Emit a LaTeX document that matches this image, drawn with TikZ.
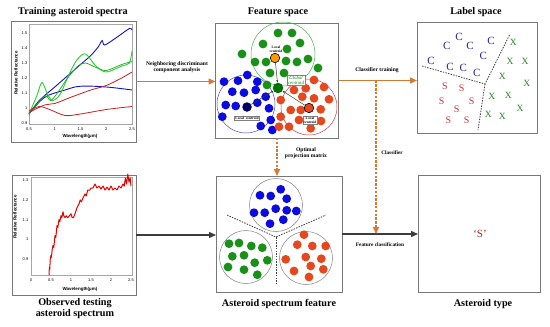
\documentclass[tikz,border=0pt]{standalone}
\usepackage{fontspec}
\setmainfont{Liberation Serif}
\newfontfamily\axfont{Liberation Sans}
\usetikzlibrary{arrows.meta,decorations.pathmorphing,calc}
\definecolor{orng}{RGB}{212,122,50}
\definecolor{darr}{RGB}{60,60,60}
\definecolor{dblue}{RGB}{10,10,225}
\definecolor{dgreen}{RGB}{25,145,25}
\definecolor{dred}{RGB}{228,72,30}
\definecolor{cnavy}{RGB}{35,35,140}
\definecolor{sred}{RGB}{200,50,60}
\definecolor{xgreen}{RGB}{40,130,40}
\definecolor{boxgray}{RGB}{120,120,120}
\definecolor{lgreen}{RGB}{40,210,40}
\definecolor{pblue}{RGB}{20,20,190}
\definecolor{pred}{RGB}{200,30,30}
\begin{document}
\begin{tikzpicture}[x=1pt,y=-1pt,
  panel/.style={draw=boxgray,line width=0.9pt,inner sep=0pt,outer sep=0pt},
  title/.style={font=\bfseries\fontsize{10.2}{11}\selectfont,align=center},
  lbl/.style={font=\bfseries\fontsize{5.6}{6.6}\selectfont,align=center,inner sep=0pt},
  oarrow/.style={draw=orng,line width=1.4pt,-{Triangle[length=7pt,width=6pt]}},
  odash/.style={draw=orng,line width=1.6pt,dash pattern=on 2.4pt off 1.4pt,-{Triangle[length=7pt,width=6pt]}},
  karrow/.style={draw=darr,line width=1.4pt,-{Triangle[length=7pt,width=6pt]}},
  tickl/.style={font=\axfont\fontsize{4}{4}\selectfont,inner sep=0.5pt},
  axl/.style={font=\axfont\bfseries\fontsize{4.5}{5}\selectfont,inner sep=0pt},
  frame/.style={draw=gray!70,line width=0.4pt},
  cent/.style={font=\bfseries\fontsize{3.6}{4}\selectfont,align=center,draw=gray,fill=white,inner sep=0.8pt,line width=0.3pt},
  carrow/.style={draw=darr,line width=0.5pt,-{Stealth[length=2.5pt,width=2pt]}},
  sepl/.style={draw=black!75,line width=0.8pt,dash pattern=on 1.5pt off 1.2pt},
  letter/.style={font=\fontsize{11}{12}\selectfont,inner sep=0pt}
]
\useasboundingbox (0,0) rectangle (550,327);
\fill[white] (0,0) rectangle (550,327);

% ---------- panels ----------
\node[panel,minimum width=125pt,minimum height=121pt] (tp) at (73.5,81.5) {};
\node[panel,minimum width=123pt,minimum height=115pt] (fs) at (277,80.5) {};
\node[panel,minimum width=120pt,minimum height=111pt] (ls) at (477,77.5) {};
\node[panel,minimum width=124pt,minimum height=120pt] (bp) at (74,235) {};
\node[panel,minimum width=126pt,minimum height=116pt] (af) at (279,234) {};
\node[panel,minimum width=122pt,minimum height=117pt] (at) at (479,233.5) {};

% ---------- titles ----------
\node[title] (t1) at (73,12) {Training asteroid spectra};
\node[title] (t2) at (278,12) {Feature space};
\node[title] (t3) at (476,12) {Label space};
\node[title] (t4) at (75,309) {Observed testing\\asteroid spectrum};
\node[title] (t5) at (279,304) {Asteroid spectrum feature};
\node[title] (t6) at (483,304) {Asteroid type};

% ---------- top-left plot ----------
\draw[frame] (29,24) rectangle (132,124);
\foreach \v/\yy in {0.9/123,1/108,1.1/93,1.2/78,1.3/63,1.4/48,1.5/33}
  \node[tickl,anchor=east] at (28,\yy) {\v};
\foreach \v/\xx in {0.5/29,1/54.75,1.5/80.5,2/106.25,2.5/132}
  \node[tickl] at (\xx,129.5) {\v};
\node[axl,rotate=90] (yl1) at (16,73) {Relative Reflectance};
\node[axl] (xl1) at (80,136) {Wavelength(\textmu m)};
\begin{scope}[shift={(3.25,258)},x=51.5pt,y=150pt]
  \draw[pblue,line width=0.9pt] plot[smooth,tension=0.5] coordinates {(0.5,0.96)(0.7,1.05)(1.0,1.14)(1.3,1.23)(1.5,1.29)(1.7,1.35)(1.85,1.41)(1.92,1.45)(1.97,1.42)(2.2,1.47)(2.45,1.53)(2.5,1.52)};
  \draw[pblue,line width=0.9pt] plot[smooth,tension=0.6] coordinates {(0.5,0.96)(0.8,1.07)(1.2,1.12)(1.5,1.145)(2.0,1.14)(2.5,1.12)};
  \draw[lgreen,line width=0.9pt] plot[smooth,tension=0.5] coordinates {(0.5,0.96)(0.65,1.08)(0.75,1.17)(0.85,1.1)(0.95,1.05)(1.1,1.09)(1.3,1.24)(1.45,1.33)(1.6,1.36)(1.8,1.28)(2.0,1.24)(2.3,1.28)(2.45,1.3)(2.5,1.38)};
  \draw[lgreen!80!black,line width=0.7pt] plot[smooth,tension=0.5] coordinates {(0.5,0.96)(0.8,1.08)(0.92,1.05)(1.05,1.1)(1.25,1.2)(1.45,1.28)(1.6,1.3)(1.8,1.27)(2.0,1.25)(2.3,1.29)(2.5,1.31)};
  \draw[pred,line width=0.8pt] plot[smooth,tension=0.5] coordinates {(0.5,0.97)(0.8,1.02)(1.0,1.03)(1.3,1.07)(1.7,1.12)(2.0,1.15)(2.3,1.2)(2.5,1.24)};
  \draw[pred,line width=0.8pt] plot[smooth,tension=0.5] coordinates {(0.5,0.98)(0.7,1.01)(0.9,0.99)(1.2,0.95)(1.5,0.96)(2.0,0.99)(2.5,1.01)};
\end{scope}

% ---------- bottom-left plot ----------
\draw[frame] (31,177) rectangle (132,275);
\foreach \v/\yy in {0.9/259.3,1/239.5,1.1/219.7,1.2/199.9,1.3/180.1}
  \node[tickl,anchor=east] at (29,\yy) {\v};
\foreach \v/\xx in {0/31,0.5/51,1/71,1.5/91,2/111,2.5/131}
  \node[tickl] at (\xx,280.5) {\v};
\node[axl,rotate=90] (yl2) at (15,217) {Relative Reflectance};
\node[axl] (xl2) at (80,289) {Wavelength(\textmu m)};
\begin{scope}[shift={(31,437.5)},x=40pt,y=198pt]
  \draw[red!90!black,line width=1pt,line join=round]
   (0.45,0.82) -- (0.46,0.86) -- (0.47,0.85) -- (0.48,0.9) -- (0.5,0.92) -- (0.51,0.91) -- (0.53,0.95) -- (0.55,0.97) -- (0.57,0.96) -- (0.6,1.02) -- (0.62,1.01) -- (0.65,1.07) -- (0.67,1.06) -- (0.7,1.1) -- (0.72,1.09) -- (0.75,1.12) -- (0.77,1.11) -- (0.8,1.14) -- (0.82,1.12) -- (0.85,1.11) -- (0.88,1.12) -- (0.92,1.11) -- (0.96,1.12) -- (1.0,1.13) -- (1.03,1.11) -- (1.06,1.11) -- (1.1,1.13) -- (1.15,1.16) -- (1.2,1.18) -- (1.23,1.2) -- (1.26,1.19) -- (1.3,1.21) -- (1.35,1.23) -- (1.38,1.22) -- (1.42,1.25) -- (1.47,1.25) -- (1.5,1.26) -- (1.55,1.26) -- (1.6,1.28) -- (1.65,1.26) -- (1.7,1.27) -- (1.75,1.255) -- (1.8,1.27) -- (1.85,1.25) -- (1.9,1.265) -- (1.95,1.25) -- (2.0,1.27) -- (2.05,1.25) -- (2.1,1.26) -- (2.15,1.25) -- (2.2,1.27) -- (2.25,1.26) -- (2.3,1.28) -- (2.33,1.27) -- (2.36,1.31) -- (2.39,1.28) -- (2.42,1.33) -- (2.45,1.29) -- (2.48,1.31) -- (2.5,1.27);
\end{scope}

% ---------- feature space (top) ----------
\draw[green!40!gray,line width=0.5pt] (283,54) circle (32);
\draw[blue!40!gray,line width=0.5pt] (246,104) circle (29);
\draw[red!50!gray,line width=0.5pt] (309,107) circle (28);
\foreach \x/\y in {278/33,292/33,263/44,300/43,287/49,242/54,255/62,266/62,286/61,297/62,308/59,318/68,270/73,284/73,267/85}
  \fill[dgreen] (\x,\y) circle (4.4);
\foreach \x/\y in {224/81.7,238/80.7,247.3/75,257.3/81.7,232.3/91.7,244/92.7,255.7/90,265.7/96.7,225.7/105,235.7/106,257.3/102.7,269/108.3,270.7/120,260.7/126,272.3/130,222.3/116.7}
  \fill[dblue] (\x,\y) circle (4.4);
\foreach \x/\y in {314/80,305.7/88.3,294/90,280.7/100,302.3/96.7,314/98.3,329/99.3,290.7/110,300.7/110,320.7/109.3,280.7/116.7,279/126.7,289/126.7,310.7/128.3,324/87,299/120,321/121}
  \fill[dred] (\x,\y) circle (4.4);
\node[circle,fill=orange!80!yellow,draw=black,line width=0.6pt,minimum size=9.5pt,inner sep=0pt] (yc) at (275,58) {};
\node[circle,fill=blue!40!black,minimum size=9.5pt,inner sep=0pt] (bc) at (247,107) {};
\node[circle,fill=dred,draw=black,line width=0.6pt,minimum size=9.5pt,inner sep=0pt] (rc) at (309,108) {};
\node[circle,fill=green!45!black,minimum size=10.5pt,inner sep=0pt] (gc) at (278,88) {};
\draw[carrow] (yc) -- (gc);
\draw[carrow] (bc) -- (gc);
\draw[carrow] (rc) -- (gc);
\node[font=\bfseries\fontsize{3.6}{4}\selectfont,align=center,inner sep=0.5pt] (ylab) at (276,49) {Local\\centroid};
\node[cent,text=green!55!black,font=\itshape\fontsize{4.8}{5.2}\selectfont] (glab) at (296,80) {Global\\centroid};
\node[cent] (blab) at (247,118) {Local\ \ centroid};
\node[cent] (rlab) at (310,120) {Local\\centroid};

% ---------- asteroid spectrum feature (bottom) ----------
\draw[gray,line width=0.5pt] (276,205) circle (26.5);
\draw[gray,line width=0.5pt] (246,257) circle (26.5);
\draw[gray,line width=0.5pt] (306,258) circle (26.5);
\foreach \x/\y in {260/195.3,270.7/196,280.7/189.3,286.7/198.7,254/212.7,264.7/212.7,275.7/208.7,286.7/210.3,296.3/211,270/223.7,283.3/219.7}
  \fill[dblue] (\x,\y) circle (4.4);
\foreach \x/\y in {229/243.7,239/243,251.3/246,262.3/247.7,232.3/256.3,244/255.3,267.3/260.3,254.7/262.7,228/267,244/269.7,257.3/274.7}
  \fill[dgreen] (\x,\y) circle (4.4);
\foreach \x/\y in {304/234.7,297.3/244.7,312.3/246,325.7/246,285.7/259.3,305.7/257,321.3/258.7,310.7/266,294/271,323.3/269.3,309/277}
  \fill[dred] (\x,\y) circle (4.4);
\coordinate (aj) at (276,237);
\coordinate (al) at (227,215);
\coordinate (ar) at (326,215);
\coordinate (ad) at (276,284);
\draw[sepl] (al) -- (aj) -- (ar);
\draw[sepl] (aj) -- (ad);

% ---------- label space ----------
\foreach \x/\y [count=\i] in {459/37.3,491/40.7,446.7/46,470/46,483.3/56,431/60.7,450/66.7,463.3/68.3,476.7/73.3}
  \node[letter,text=cnavy] (c\i) at (\x,\y) {C};
\foreach \x/\y [count=\i] in {445/86,461.7/88.3,441.7/101,471.7/101,456.7/109.3,448.3/120,466.7/120}
  \node[letter,text=sred,font=\fontsize{10}{11}\selectfont] (s\i) at (\x,\y) {S};
\foreach \x/\y [count=\i] in {513.3/42.7,510/61.7,525/61.7,502.3/76.7,526.7/83.3,491.7/96,508.3/95,488.3/114,502.3/116.7,520/108.3}
  \node[letter,text=xgreen,font=\fontsize{9.5}{10}\selectfont] (x\i) at (\x,\y) {X};
\coordinate (lj) at (485,84);
\coordinate (ll) at (422,66);
\coordinate (lr) at (510,34);
\coordinate (ld) at (478,130);
\draw[sepl] (ll) -- (lj) -- (lr);
\draw[sepl] (lj) -- (ld);

% ---------- asteroid type ----------
\node[font=\fontsize{11}{12}\selectfont,text=sred!80!black] (sres) at (480,234) {‘S’};

% ---------- connectors ----------
\draw[oarrow] (tp.east) -- (tp.east -| fs.west);
\node[lbl] (l1) at (177,67) {Neighboring discriminant\\component analysis};
\draw[oarrow] (fs.east) -- (fs.east -| ls.west);
\node[lbl] (l2) at (377,70) {Classifier training};
\draw[odash] (fs.south) -- (fs.south |- af.north);
\node[lbl] (l3) at (306,153) {Optimal\\projection matrix};
\draw[karrow] (bp.east) -- (bp.east -| af.west);
\draw[karrow] (af.east) -- (af.east -| at.west);
\node[lbl,font=\bfseries\fontsize{5.3}{6}\selectfont] (l5) at (380,245) {Feature classification};
\coordinate (ct) at (376,80.5);
\draw[odash] (ct) -- (ct |- af.east);
\node[lbl,font=\bfseries\fontsize{5.3}{6}\selectfont] (l4) at (392,153) {Classifier};
\end{tikzpicture}
\end{document}
